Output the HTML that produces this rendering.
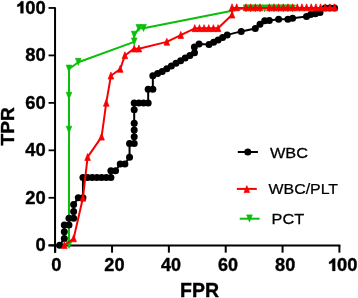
<!DOCTYPE html>
<html><head><meta charset="utf-8"><style>
html,body{margin:0;padding:0;background:#fff;width:358px;height:298px;overflow:hidden}
svg{display:block;filter:blur(0.35px)}
.b{font-family:"Liberation Sans",sans-serif;font-weight:bold;fill:#000;stroke:#000;stroke-width:0.35px}
.r{font-family:"Liberation Sans",sans-serif;fill:#000;stroke:#000;stroke-width:0.25px}
</style></head><body>
<svg width="358" height="298" viewBox="0 0 358 298">
<path d="M55.05 7.30V252.65M48.55 245.45H340.4" stroke="#000" stroke-width="2" fill="none"/><path d="M48.55 245.25H55.05" stroke="#000" stroke-width="1.8"/><path d="M55.20 245.45V252.64999999999998" stroke="#000" stroke-width="2"/><path d="M48.55 197.79H55.05" stroke="#000" stroke-width="1.8"/><path d="M112.04 245.45V252.64999999999998" stroke="#000" stroke-width="2"/><path d="M48.55 150.33H55.05" stroke="#000" stroke-width="1.8"/><path d="M168.88 245.45V252.64999999999998" stroke="#000" stroke-width="2"/><path d="M48.55 102.87H55.05" stroke="#000" stroke-width="1.8"/><path d="M225.72 245.45V252.64999999999998" stroke="#000" stroke-width="2"/><path d="M48.55 55.41H55.05" stroke="#000" stroke-width="1.8"/><path d="M282.56 245.45V252.64999999999998" stroke="#000" stroke-width="2"/><path d="M48.55 7.95H55.05" stroke="#000" stroke-width="1.8"/><path d="M339.40 245.45V252.64999999999998" stroke="#000" stroke-width="2"/><text transform="translate(45.6 251.10) scale(1.05 1)" text-anchor="end" class="b" font-size="17.5">0</text><text transform="translate(56.30 271) scale(1.05 1)" text-anchor="middle" class="b" font-size="17.5">0</text><text transform="translate(45.6 203.64) scale(1.05 1)" text-anchor="end" class="b" font-size="17.5">20</text><text transform="translate(114.45 271) scale(1.04 1)" text-anchor="middle" class="b" font-size="17.5">20</text><text transform="translate(45.6 156.18) scale(1.05 1)" text-anchor="end" class="b" font-size="17.5">40</text><text transform="translate(170.95 271) scale(1.03 1)" text-anchor="middle" class="b" font-size="17.5">40</text><text transform="translate(45.6 108.72) scale(1.05 1)" text-anchor="end" class="b" font-size="17.5">60</text><text transform="translate(228.05 271) scale(1.03 1)" text-anchor="middle" class="b" font-size="17.5">60</text><text transform="translate(45.6 61.26) scale(1.05 1)" text-anchor="end" class="b" font-size="17.5">80</text><text transform="translate(285.20 271) scale(1.04 1)" text-anchor="middle" class="b" font-size="17.5">80</text><text transform="translate(45.6 13.80) scale(1.05 1)" text-anchor="end" class="b" font-size="17.5">00</text><path d="M23.40 13.30V1.25H21.00C19.90 3.25 18.50 4.25 17.30 4.55V6.75C18.60 6.65 19.80 6.15 20.50 5.45V13.30Z" fill="#000" stroke="#000" stroke-width="0.3"/><text transform="translate(347.2 271) scale(1.05 1)" text-anchor="middle" class="b" font-size="17.5">00</text><path d="M335.20 270.90V258.40H332.80C331.70 260.40 330.30 261.40 329.10 261.70V263.90C330.40 263.80 331.60 263.30 332.30 262.60V270.90Z" fill="#000" stroke="#000" stroke-width="0.3"/><text x="199.5" y="297" text-anchor="middle" class="b" font-size="19.5">FPR</text><text transform="translate(14.2 126.4) rotate(-90)" text-anchor="middle" class="b" font-size="19.2">TPR</text>
<polyline points="68.98,245.30 68.98,130.04 68.98,96.14 68.98,69.02 78.30,62.24 134.20,41.90 134.20,35.12 138.86,28.34 143.52,28.34 246.02,8.00 250.68,8.00 255.34,8.00 260.00,8.00 264.65,8.00 269.31,8.00 273.97,8.00 278.63,8.00 283.29,8.00 287.95,8.00 292.61,8.00" fill="none" stroke="#0abe0a" stroke-width="2.0" stroke-linejoin="round"/><path d="M66.18 241.40L71.78 241.40L68.98 248.40Z" fill="#0abe0a" stroke="#0abe0a" stroke-width="0.7" stroke-linejoin="miter"/><path d="M66.18 126.14L71.78 126.14L68.98 133.14Z" fill="#0abe0a" stroke="#0abe0a" stroke-width="0.7" stroke-linejoin="miter"/><path d="M66.18 92.24L71.78 92.24L68.98 99.24Z" fill="#0abe0a" stroke="#0abe0a" stroke-width="0.7" stroke-linejoin="miter"/><path d="M66.18 65.12L71.78 65.12L68.98 72.12Z" fill="#0abe0a" stroke="#0abe0a" stroke-width="0.7" stroke-linejoin="miter"/><path d="M75.50 58.34L81.09 58.34L78.30 65.34Z" fill="#0abe0a" stroke="#0abe0a" stroke-width="0.7" stroke-linejoin="miter"/><path d="M131.40 38.00L137.00 38.00L134.20 45.00Z" fill="#0abe0a" stroke="#0abe0a" stroke-width="0.7" stroke-linejoin="miter"/><path d="M131.40 31.22L137.00 31.22L134.20 38.22Z" fill="#0abe0a" stroke="#0abe0a" stroke-width="0.7" stroke-linejoin="miter"/><path d="M136.06 24.44L141.66 24.44L138.86 31.44Z" fill="#0abe0a" stroke="#0abe0a" stroke-width="0.7" stroke-linejoin="miter"/><path d="M140.72 24.44L146.32 24.44L143.52 31.44Z" fill="#0abe0a" stroke="#0abe0a" stroke-width="0.7" stroke-linejoin="miter"/><path d="M243.22 4.90L248.82 4.90L246.02 11.90Z" fill="#0abe0a" stroke="#0abe0a" stroke-width="0.7" stroke-linejoin="miter"/><path d="M247.88 4.90L253.48 4.90L250.68 11.90Z" fill="#0abe0a" stroke="#0abe0a" stroke-width="0.7" stroke-linejoin="miter"/><path d="M252.54 4.90L258.14 4.90L255.34 11.90Z" fill="#0abe0a" stroke="#0abe0a" stroke-width="0.7" stroke-linejoin="miter"/><path d="M257.20 4.90L262.80 4.90L260.00 11.90Z" fill="#0abe0a" stroke="#0abe0a" stroke-width="0.7" stroke-linejoin="miter"/><path d="M261.85 4.90L267.45 4.90L264.65 11.90Z" fill="#0abe0a" stroke="#0abe0a" stroke-width="0.7" stroke-linejoin="miter"/><path d="M266.51 4.90L272.11 4.90L269.31 11.90Z" fill="#0abe0a" stroke="#0abe0a" stroke-width="0.7" stroke-linejoin="miter"/><path d="M271.17 4.90L276.77 4.90L273.97 11.90Z" fill="#0abe0a" stroke="#0abe0a" stroke-width="0.7" stroke-linejoin="miter"/><path d="M275.83 4.90L281.43 4.90L278.63 11.90Z" fill="#0abe0a" stroke="#0abe0a" stroke-width="0.7" stroke-linejoin="miter"/><path d="M280.49 4.90L286.09 4.90L283.29 11.90Z" fill="#0abe0a" stroke="#0abe0a" stroke-width="0.7" stroke-linejoin="miter"/><path d="M285.15 4.90L290.75 4.90L287.95 11.90Z" fill="#0abe0a" stroke="#0abe0a" stroke-width="0.7" stroke-linejoin="miter"/><path d="M289.81 4.90L295.41 4.90L292.61 11.90Z" fill="#0abe0a" stroke="#0abe0a" stroke-width="0.7" stroke-linejoin="miter"/><polyline points="59.66,245.30 64.32,238.52 64.32,231.74 64.32,224.96 68.98,224.96 68.98,218.18 73.64,218.18 73.64,211.40 73.64,204.62 78.30,197.84 82.95,197.84 82.95,177.50 87.61,177.50 92.27,177.50 96.93,177.50 101.59,177.50 106.25,177.50 110.91,177.50 110.91,170.72 115.57,170.72 120.23,163.94 124.88,163.94 129.54,157.16 129.54,143.60 134.20,143.60 134.20,136.82 134.20,130.04 134.20,123.26 134.20,109.70 134.20,102.92 138.86,102.92 143.52,102.92 148.18,102.92 148.18,89.36 152.84,89.36 152.84,75.80 157.60,73.40 162.20,71.40 166.80,68.80 171.40,66.00 176.00,63.30 180.60,60.70 185.20,58.00 189.90,55.40 194.50,52.80 194.40,47.00 199.00,44.00 209.00,44.40 213.60,42.30 218.10,40.00 222.60,37.40 227.20,34.90 241.20,31.40 255.30,28.60 260.00,24.20 264.70,20.70 269.30,20.40 278.60,19.30 287.90,19.30 292.60,18.20 306.50,16.40 310.70,14.50 315.40,13.70 320.00,12.60 325.22,8.00 329.88,8.00 334.54,8.00" fill="none" stroke="#000" stroke-width="2.0" stroke-linejoin="round"/><circle cx="59.66" cy="245.30" r="3.5" fill="#000"/><circle cx="64.32" cy="238.52" r="3.5" fill="#000"/><circle cx="64.32" cy="231.74" r="3.5" fill="#000"/><circle cx="64.32" cy="224.96" r="3.5" fill="#000"/><circle cx="68.98" cy="224.96" r="3.5" fill="#000"/><circle cx="68.98" cy="218.18" r="3.5" fill="#000"/><circle cx="73.64" cy="218.18" r="3.5" fill="#000"/><circle cx="73.64" cy="211.40" r="3.5" fill="#000"/><circle cx="73.64" cy="204.62" r="3.5" fill="#000"/><circle cx="78.30" cy="197.84" r="3.5" fill="#000"/><circle cx="82.95" cy="197.84" r="3.5" fill="#000"/><circle cx="82.95" cy="177.50" r="3.5" fill="#000"/><circle cx="87.61" cy="177.50" r="3.5" fill="#000"/><circle cx="92.27" cy="177.50" r="3.5" fill="#000"/><circle cx="96.93" cy="177.50" r="3.5" fill="#000"/><circle cx="101.59" cy="177.50" r="3.5" fill="#000"/><circle cx="106.25" cy="177.50" r="3.5" fill="#000"/><circle cx="110.91" cy="177.50" r="3.5" fill="#000"/><circle cx="110.91" cy="170.72" r="3.5" fill="#000"/><circle cx="115.57" cy="170.72" r="3.5" fill="#000"/><circle cx="120.23" cy="163.94" r="3.5" fill="#000"/><circle cx="124.88" cy="163.94" r="3.5" fill="#000"/><circle cx="129.54" cy="157.16" r="3.5" fill="#000"/><circle cx="129.54" cy="143.60" r="3.5" fill="#000"/><circle cx="134.20" cy="143.60" r="3.5" fill="#000"/><circle cx="134.20" cy="136.82" r="3.5" fill="#000"/><circle cx="134.20" cy="130.04" r="3.5" fill="#000"/><circle cx="134.20" cy="123.26" r="3.5" fill="#000"/><circle cx="134.20" cy="109.70" r="3.5" fill="#000"/><circle cx="134.20" cy="102.92" r="3.5" fill="#000"/><circle cx="138.86" cy="102.92" r="3.5" fill="#000"/><circle cx="143.52" cy="102.92" r="3.5" fill="#000"/><circle cx="148.18" cy="102.92" r="3.5" fill="#000"/><circle cx="148.18" cy="89.36" r="3.5" fill="#000"/><circle cx="152.84" cy="89.36" r="3.5" fill="#000"/><circle cx="152.84" cy="75.80" r="3.5" fill="#000"/><circle cx="157.60" cy="73.40" r="3.5" fill="#000"/><circle cx="162.20" cy="71.40" r="3.5" fill="#000"/><circle cx="166.80" cy="68.80" r="3.5" fill="#000"/><circle cx="171.40" cy="66.00" r="3.5" fill="#000"/><circle cx="176.00" cy="63.30" r="3.5" fill="#000"/><circle cx="180.60" cy="60.70" r="3.5" fill="#000"/><circle cx="185.20" cy="58.00" r="3.5" fill="#000"/><circle cx="189.90" cy="55.40" r="3.5" fill="#000"/><circle cx="194.50" cy="52.80" r="3.5" fill="#000"/><circle cx="194.40" cy="47.00" r="3.5" fill="#000"/><circle cx="199.00" cy="44.00" r="3.5" fill="#000"/><circle cx="209.00" cy="44.40" r="3.5" fill="#000"/><circle cx="213.60" cy="42.30" r="3.5" fill="#000"/><circle cx="218.10" cy="40.00" r="3.5" fill="#000"/><circle cx="222.60" cy="37.40" r="3.5" fill="#000"/><circle cx="227.20" cy="34.90" r="3.5" fill="#000"/><circle cx="241.20" cy="31.40" r="3.5" fill="#000"/><circle cx="255.30" cy="28.60" r="3.5" fill="#000"/><circle cx="260.00" cy="24.20" r="3.5" fill="#000"/><circle cx="264.70" cy="20.70" r="3.5" fill="#000"/><circle cx="269.30" cy="20.40" r="3.5" fill="#000"/><circle cx="278.60" cy="19.30" r="3.5" fill="#000"/><circle cx="287.90" cy="19.30" r="3.5" fill="#000"/><circle cx="292.60" cy="18.20" r="3.5" fill="#000"/><circle cx="306.50" cy="16.40" r="3.5" fill="#000"/><circle cx="310.70" cy="14.50" r="3.5" fill="#000"/><circle cx="315.40" cy="13.70" r="3.5" fill="#000"/><circle cx="320.00" cy="12.60" r="3.5" fill="#000"/><circle cx="325.22" cy="8.00" r="3.5" fill="#000"/><circle cx="329.88" cy="8.00" r="3.5" fill="#000"/><circle cx="334.54" cy="8.00" r="3.5" fill="#000"/><polyline points="64.32,245.30 73.64,238.52 82.95,197.84 87.61,157.16 101.59,136.82 106.25,102.92 110.91,75.80 120.23,69.02 124.88,55.46 134.20,48.68 138.86,48.68 166.82,41.90 180.79,35.12 194.77,28.34 199.43,28.34 204.09,28.34 208.75,28.34 213.41,28.34 218.06,28.34 232.04,14.78 232.04,8.00 236.70,8.00 246.02,8.00 250.68,8.00 255.34,8.00 260.00,8.00 269.31,8.00 273.97,8.00 278.63,8.00 283.29,8.00 287.95,8.00 292.61,8.00 297.27,8.00 301.93,8.00 306.59,8.00 311.25,8.00 315.90,8.00 320.56,8.00 325.22,8.00 329.88,8.00 334.54,8.00" fill="none" stroke="#f80000" stroke-width="2.0" stroke-linejoin="round"/><path d="M64.32 241.60L67.12 248.60L61.52 248.60Z" fill="#f80000" stroke="#f80000" stroke-width="0.7" stroke-linejoin="miter"/><path d="M73.64 234.82L76.44 241.82L70.84 241.82Z" fill="#f80000" stroke="#f80000" stroke-width="0.7" stroke-linejoin="miter"/><path d="M82.95 194.14L85.75 201.14L80.15 201.14Z" fill="#f80000" stroke="#f80000" stroke-width="0.7" stroke-linejoin="miter"/><path d="M87.61 153.46L90.41 160.46L84.81 160.46Z" fill="#f80000" stroke="#f80000" stroke-width="0.7" stroke-linejoin="miter"/><path d="M101.59 133.12L104.39 140.12L98.79 140.12Z" fill="#f80000" stroke="#f80000" stroke-width="0.7" stroke-linejoin="miter"/><path d="M106.25 99.22L109.05 106.22L103.45 106.22Z" fill="#f80000" stroke="#f80000" stroke-width="0.7" stroke-linejoin="miter"/><path d="M110.91 72.10L113.71 79.10L108.11 79.10Z" fill="#f80000" stroke="#f80000" stroke-width="0.7" stroke-linejoin="miter"/><path d="M120.23 65.32L123.03 72.32L117.43 72.32Z" fill="#f80000" stroke="#f80000" stroke-width="0.7" stroke-linejoin="miter"/><path d="M124.88 51.76L127.68 58.76L122.08 58.76Z" fill="#f80000" stroke="#f80000" stroke-width="0.7" stroke-linejoin="miter"/><path d="M134.20 44.98L137.00 51.98L131.40 51.98Z" fill="#f80000" stroke="#f80000" stroke-width="0.7" stroke-linejoin="miter"/><path d="M138.86 44.98L141.66 51.98L136.06 51.98Z" fill="#f80000" stroke="#f80000" stroke-width="0.7" stroke-linejoin="miter"/><path d="M166.82 38.20L169.62 45.20L164.02 45.20Z" fill="#f80000" stroke="#f80000" stroke-width="0.7" stroke-linejoin="miter"/><path d="M180.79 31.42L183.59 38.42L177.99 38.42Z" fill="#f80000" stroke="#f80000" stroke-width="0.7" stroke-linejoin="miter"/><path d="M194.77 24.64L197.57 31.64L191.97 31.64Z" fill="#f80000" stroke="#f80000" stroke-width="0.7" stroke-linejoin="miter"/><path d="M199.43 24.64L202.23 31.64L196.63 31.64Z" fill="#f80000" stroke="#f80000" stroke-width="0.7" stroke-linejoin="miter"/><path d="M204.09 24.64L206.89 31.64L201.29 31.64Z" fill="#f80000" stroke="#f80000" stroke-width="0.7" stroke-linejoin="miter"/><path d="M208.75 24.64L211.55 31.64L205.95 31.64Z" fill="#f80000" stroke="#f80000" stroke-width="0.7" stroke-linejoin="miter"/><path d="M213.41 24.64L216.21 31.64L210.61 31.64Z" fill="#f80000" stroke="#f80000" stroke-width="0.7" stroke-linejoin="miter"/><path d="M218.06 24.64L220.87 31.64L215.26 31.64Z" fill="#f80000" stroke="#f80000" stroke-width="0.7" stroke-linejoin="miter"/><path d="M232.04 11.08L234.84 18.08L229.24 18.08Z" fill="#f80000" stroke="#f80000" stroke-width="0.7" stroke-linejoin="miter"/><path d="M232.04 3.80L234.84 10.80L229.24 10.80Z" fill="#f80000" stroke="#f80000" stroke-width="0.7" stroke-linejoin="miter"/><path d="M236.70 3.80L239.50 10.80L233.90 10.80Z" fill="#f80000" stroke="#f80000" stroke-width="0.7" stroke-linejoin="miter"/><path d="M246.02 3.80L248.82 10.80L243.22 10.80Z" fill="#f80000" stroke="#f80000" stroke-width="0.7" stroke-linejoin="miter"/><path d="M250.68 3.80L253.48 10.80L247.88 10.80Z" fill="#f80000" stroke="#f80000" stroke-width="0.7" stroke-linejoin="miter"/><path d="M255.34 3.80L258.14 10.80L252.54 10.80Z" fill="#f80000" stroke="#f80000" stroke-width="0.7" stroke-linejoin="miter"/><path d="M260.00 3.80L262.80 10.80L257.20 10.80Z" fill="#f80000" stroke="#f80000" stroke-width="0.7" stroke-linejoin="miter"/><path d="M269.31 3.80L272.11 10.80L266.51 10.80Z" fill="#f80000" stroke="#f80000" stroke-width="0.7" stroke-linejoin="miter"/><path d="M273.97 3.80L276.77 10.80L271.17 10.80Z" fill="#f80000" stroke="#f80000" stroke-width="0.7" stroke-linejoin="miter"/><path d="M278.63 3.80L281.43 10.80L275.83 10.80Z" fill="#f80000" stroke="#f80000" stroke-width="0.7" stroke-linejoin="miter"/><path d="M283.29 3.80L286.09 10.80L280.49 10.80Z" fill="#f80000" stroke="#f80000" stroke-width="0.7" stroke-linejoin="miter"/><path d="M287.95 3.80L290.75 10.80L285.15 10.80Z" fill="#f80000" stroke="#f80000" stroke-width="0.7" stroke-linejoin="miter"/><path d="M292.61 3.80L295.41 10.80L289.81 10.80Z" fill="#f80000" stroke="#f80000" stroke-width="0.7" stroke-linejoin="miter"/><path d="M297.27 3.80L300.07 10.80L294.47 10.80Z" fill="#f80000" stroke="#f80000" stroke-width="0.7" stroke-linejoin="miter"/><path d="M301.93 3.80L304.73 10.80L299.13 10.80Z" fill="#f80000" stroke="#f80000" stroke-width="0.7" stroke-linejoin="miter"/><path d="M306.59 3.80L309.39 10.80L303.79 10.80Z" fill="#f80000" stroke="#f80000" stroke-width="0.7" stroke-linejoin="miter"/><path d="M311.25 3.80L314.05 10.80L308.44 10.80Z" fill="#f80000" stroke="#f80000" stroke-width="0.7" stroke-linejoin="miter"/><path d="M315.90 3.80L318.70 10.80L313.10 10.80Z" fill="#f80000" stroke="#f80000" stroke-width="0.7" stroke-linejoin="miter"/><path d="M320.56 3.80L323.36 10.80L317.76 10.80Z" fill="#f80000" stroke="#f80000" stroke-width="0.7" stroke-linejoin="miter"/><path d="M325.22 3.80L328.02 10.80L322.42 10.80Z" fill="#f80000" stroke="#f80000" stroke-width="0.7" stroke-linejoin="miter"/><path d="M329.88 3.80L332.68 10.80L327.08 10.80Z" fill="#f80000" stroke="#f80000" stroke-width="0.7" stroke-linejoin="miter"/><path d="M334.54 3.80L337.34 10.80L331.74 10.80Z" fill="#f80000" stroke="#f80000" stroke-width="0.7" stroke-linejoin="miter"/>
<path d="M237.8 152H257.9" stroke="#000" stroke-width="2.0"/><circle cx="247.8" cy="152" r="3.5"/><text transform="translate(269.9 157.7) scale(1.06 1)" font-size="15.4" class="r">WBC</text><path d="M236.9 188.9H256.8" stroke="#f80000" stroke-width="2.0"/><path d="M246.80 185.60L249.60 192.60L244.00 192.60Z" fill="#f80000" stroke="#f80000" stroke-width="0.7" stroke-linejoin="miter"/><text transform="translate(268.5 194.3) scale(1.035 1)" font-size="15.4" class="r">WBC/PLT</text><path d="M239.7 218.7H259.6" stroke="#0abe0a" stroke-width="2.0"/><path d="M246.70 214.90L252.30 214.90L249.50 221.90Z" fill="#0abe0a" stroke="#0abe0a" stroke-width="0.7" stroke-linejoin="miter"/><text transform="translate(271.5 224.4) scale(1.06 1)" font-size="15.4" class="r">PCT</text>
</svg>
</body></html>
